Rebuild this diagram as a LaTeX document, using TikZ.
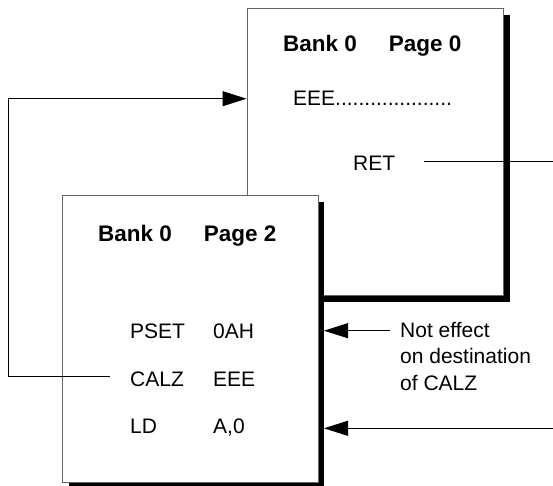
\documentclass[tikz,border=0pt]{standalone}
\usepackage{fontspec}
\setmainfont{Liberation Sans}
\usetikzlibrary{arrows.meta,shadows}
\begin{document}
\begin{tikzpicture}[x=1pt,y=-1pt,
  page/.style={draw=black!60, line width=1pt, fill=white, inner sep=0pt, anchor=north west,
    drop shadow={shadow xshift=6pt, shadow yshift=-6pt, fill=black, opacity=1}},
  txt/.style={anchor=base west, inner sep=0pt, font=\fontsize{21}{26.5}\selectfont},
  head/.style={anchor=base west, inner sep=0pt, font=\fontsize{22.5}{26}\selectfont\bfseries},
  conn/.style={draw=black, line width=1pt},
  tip/.style={-{Triangle[length=24pt,width=15pt]}}]
\useasboundingbox (0,0) rectangle (553,485);
% Page 0
\node[page, minimum width=256.5pt, minimum height=287pt] (p0) at (246.5,8) {};
\node[head] (h0) at (283,51.7) {Bank 0\hspace{32pt}Page 0};
\node[txt] (eee) at (293,105) {EEE....................};
\node[txt] (ret) at (353,170) {RET};
% Page 2
\node[page, minimum width=255.5pt, minimum height=287.3pt] (p2) at (62,195) {};
\node[head] (h2) at (98,241.7) {Bank 0\hspace{32pt}Page 2};
\node[txt] (pset) at (130,338) {PSET};
\node[txt] (oah) at (213,338) {0AH};
\node[txt] (calz) at (130,386.7) {CALZ};
\node[txt] (eee2) at (213,386.7) {EEE};
\node[txt] (ld) at (130,433) {LD};
\node[txt] (a0) at (213,433) {A,0};
% note
\node[txt, align=left, anchor=north west] (note) at (400,321.7) {Not effect\\on destination\\of CALZ};
% connectors
\coordinate (calzL) at (110,376.7);
\coordinate (loop) at (8,98.7);
\draw[conn,tip] (calzL) -| (loop) -- (loop -| p0.west);
\coordinate (retL) at (424,161.7);
\coordinate (retR) at (553,161.7);
\draw[conn] (retL) -- (retR);
\coordinate (p2sh) at (324,0);
\coordinate (nL) at (390,330.7);
\draw[conn,tip] (nL) -- (nL -| p2sh);
\coordinate (ldR) at (553,428.3);
\draw[conn,tip] (ldR) -- (ldR -| p2sh);
\end{tikzpicture}
\end{document}
